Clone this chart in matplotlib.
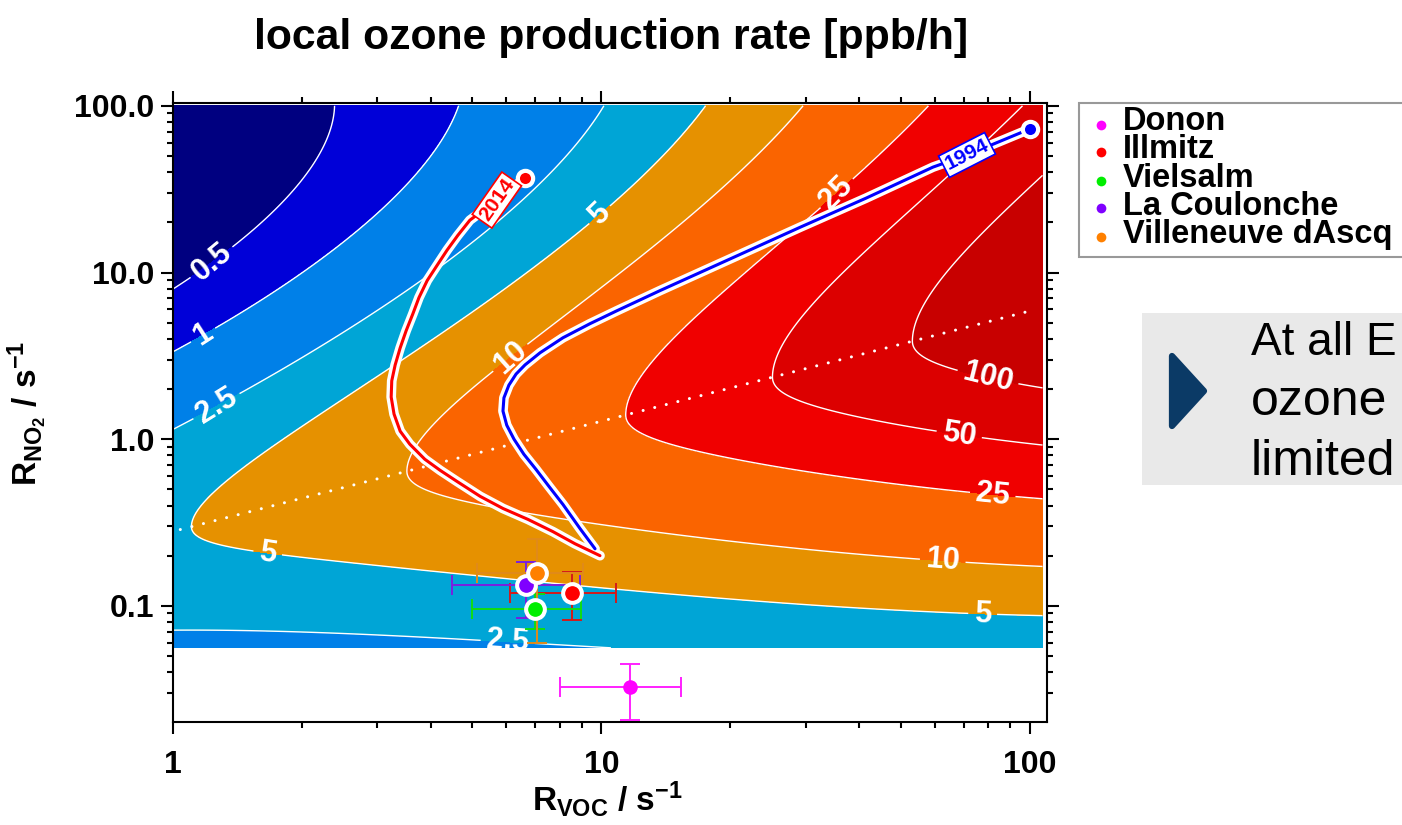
import numpy as np
import matplotlib
matplotlib.use('Agg')
import matplotlib.pyplot as plt
from matplotlib.lines import Line2D
from matplotlib.patches import Rectangle, Polygon
from matplotlib.ticker import LogLocator, FixedLocator, FixedFormatter, NullFormatter

plt.rcParams['font.family'] = ['Liberation Sans', 'DejaVu Sans']
plt.rcParams['font.weight'] = 'bold'
plt.rcParams['mathtext.fontset'] = 'custom'
plt.rcParams['mathtext.rm'] = 'Liberation Sans:bold'
plt.rcParams['mathtext.it'] = 'Liberation Sans:bold'
plt.rcParams['mathtext.bf'] = 'Liberation Sans:bold'
plt.rcParams['mathtext.default'] = 'bf'

# ---------------- data ----------------
# contour levels of the local ozone production rate [ppb/h]
levels = [0.5, 1, 2.5, 5, 10, 25, 50, 100]
band_colors = ['#000080', '#0000d8', '#0080e8', '#00a5d6', '#e69100',
               '#fa6400', '#f00000', '#dc0000', '#c80000']

# points (level, R_VOC, R_NO2)
cont_level = [0.5, 0.5, 0.5, 0.5,
              1, 1, 1, 1, 1,
              2.5, 2.5, 2.5, 2.5, 2.5, 2.5, 2.5, 2.5, 2.5, 2.5,
              5, 5, 5, 5, 5, 5, 5, 5, 5, 5, 5, 5, 5, 5, 5, 5,
              10, 10, 10, 10, 10, 10, 10, 10, 10, 10, 10, 10, 10, 10,
              25, 25, 25, 25, 25, 25, 25, 25, 25, 25, 25, 25,
              50, 50, 50, 50, 50, 50, 50, 50, 50, 50,
              100, 100, 100, 100, 100, 100, 100, 100, 100]
cont_voc = [2.52, 2.01, 1.41, 1.0,
            4.38, 2.88, 1.875, 1.24, 1.0,
            9.66, 6.81, 5.43, 3.65, 1.49, 1.0, 1.0, 2.01, 4.93, 9.5,
            17.3, 11.0, 9.8, 6.4, 3.09, 1.24, 1.08, 1.08, 1.175, 1.41, 2.42, 4.93, 11.1, 29.0, 77.6, 107,
            30.7, 17.0, 10.9, 7.19, 5.49, 4.27, 3.44, 3.33, 4.13, 7.06, 11.1, 24.3, 62.7, 107,
            60.0, 34.7, 20.3, 15.5, 12.5, 11.8, 12.5, 17.0, 24.3, 34.7, 71.3, 107,
            98.5, 82.0, 59.3, 34.2, 27.1, 26.1, 28.0, 34.7, 59.3, 107,
            107, 85.0, 71.4, 57.5, 54.5, 54.0, 59.3, 68.5, 107]
cont_no2 = [100, 34.4, 14.1, 8.2,
            100, 19.7, 8.95, 4.93, 3.3,
            100, 32.5, 19.7, 8.5, 2.03, 1.16, 0.088, 0.0776, 0.065, 0.056,
            100, 27.2, 21.5, 8.95, 2.33, 0.58, 0.406, 0.353, 0.26, 0.227, 0.179, 0.146, 0.121, 0.096, 0.092, 0.085,
            100, 19.7, 8.6, 3.79, 2.34, 1.41, 0.88, 0.64, 0.467, 0.334, 0.27, 0.227, 0.197, 0.177,
            100, 31.2, 7.8, 4.06, 2.33, 1.43, 1.07, 0.77, 0.64, 0.56, 0.473, 0.453,
            100, 62.4, 31.2, 7.8, 3.89, 2.47, 1.87, 1.47, 1.12, 0.97,
            43, 27.2, 21.5, 7.8, 5.66, 4.0, 3.25, 2.75, 2.23]

# contour label positions
label_voc = [1.22, 1.156, 1.24, 9.83, 6.0, 34.7, 1.67, 6.06, 62.7, 77.6, 82.2, 68.8, 80.8]
label_no2 = [11.8, 4.47, 1.69, 22.6, 3.25, 31.2, 0.22, 0.067, 0.197, 0.092, 0.507, 1.16, 2.64]

# dotted ridge line
ridge_voc = [1.04, 98.5]
ridge_no2 = [0.287, 5.82]

# 2014 and 1994 trajectories
traj2014_voc = [9.92, 8.67, 7.70, 6.74, 5.89, 5.21, 4.60, 4.20, 3.87, 3.57, 3.39, 3.28,
                3.23, 3.24, 3.30, 3.39, 3.50, 3.63, 3.75, 3.92, 4.13, 4.36, 4.62, 4.93,
                5.70, 6.63]
traj2014_no2 = [0.200, 0.236, 0.279, 0.330, 0.384, 0.454, 0.558, 0.651, 0.758, 0.933, 1.117,
                1.415, 1.79, 2.24, 2.79, 3.53, 4.47, 5.66, 7.07, 8.95, 11.0, 13.6, 16.7,
                20.6, 27.2, 36.8]
traj1994_voc = [9.66, 8.91, 8.13, 7.54, 7.03, 6.59, 6.25, 6.01, 5.89, 5.92, 6.08, 6.32,
                6.63, 7.19, 8.13, 9.40, 10.87, 13.7, 20.3, 29.1, 41.4, 59.4, 71.3, 100]
traj1994_no2 = [0.220, 0.291, 0.406, 0.521, 0.660, 0.812, 1.0, 1.214, 1.475, 1.77, 2.11,
                2.46, 2.79, 3.30, 4.06, 4.93, 5.90, 7.79, 12.3, 18.7, 27.9, 42.9, 50.7, 72.7]

# measurement sites
sites = ['Donon', 'Illmitz', 'Vielsalm', 'La Coulonche', 'Villeneuve dAscq']
site_color = ['#ff00ff', '#ff0000', '#00ee00', '#7f00ff', '#ff8000']
site_ecolor = ['#ff20ff', '#d41a1a', '#11dd11', '#7a1fe0', '#e08a1a']
site_voc = [11.65, 8.52, 7.0, 6.67, 7.06]
site_voc_lo = [8.0, 6.12, 4.98, 4.49, 5.11]
site_voc_hi = [15.3, 10.8, 8.94, 8.91, 9.04]
site_no2 = [0.0328, 0.120, 0.0964, 0.133, 0.157]
site_no2_lo = [0.0207, 0.0824, 0.0730, 0.0847, 0.060]
site_no2_hi = [0.0449, 0.160, 0.1186, 0.184, 0.251]

# ---------------- smooth surface through the contour readings ----------------
RB = (np.log10(ridge_no2[1]) - np.log10(ridge_no2[0])) / (np.log10(ridge_voc[1]) - np.log10(ridge_voc[0]))
RA = np.log10(ridge_no2[0]) - RB * np.log10(ridge_voc[0])


def features(u, v, w_up, w_lo):
    d = v - (RA + RB * u)
    up = (d > 0).astype(float)
    lo = 1.0 - up
    hu = np.sqrt(d ** 2 + w_up ** 2) - w_up
    hl = np.sqrt(d ** 2 + w_lo ** 2) - w_lo
    return np.stack([np.ones_like(u), u, u ** 2, u ** 3,
                     -up * hu, -up * u * hu, -up * v * hu, -up * u * u * hu, -up * u * v * hu,
                     -lo * hl, -lo * u * hl, -lo * v * hl], axis=-1)


up_ = np.log10(np.array(cont_voc, float))
vp_ = np.log10(np.array(cont_no2, float))
tp_ = np.log10(np.array(cont_level, float))

best = None
for w_up in np.linspace(0.2, 1.2, 11):
    for w_lo in np.linspace(0.2, 1.2, 11):
        Fm = features(up_, vp_, w_up, w_lo)
        c, *_ = np.linalg.lstsq(Fm, tp_, rcond=None)
        err = np.sum((Fm @ c - tp_) ** 2)
        if best is None or err < best[0]:
            best = (err, w_up, w_lo, c)
_, W_UP, W_LO, coef = best

ug = np.linspace(0.0, np.log10(107), 500)
vg = np.linspace(np.log10(0.056), 2.0, 500)
U, V = np.meshgrid(ug, vg)
P = 10 ** (features(U, V, W_UP, W_LO) @ coef)
XG, YG = 10 ** U, 10 ** V

# ---------------- figure ----------------
fig = plt.figure(figsize=(14.02, 8.25), dpi=100)
ax = fig.add_axes([173 / 1402, 1 - 722 / 825, (1047 - 173) / 1402, (722 - 103) / 825])
ax.set_xscale('log')
ax.set_yscale('log')

ax.contourf(XG, YG, P, levels=[1e-9] + levels + [1e9], colors=band_colors, zorder=1)
cs = ax.contour(XG, YG, P, levels=levels, colors='white', linewidths=1.0, zorder=2)
lbls = ax.clabel(cs, levels=levels, inline=True, fontsize=22,
                 fmt=lambda v: f'{v:g}', colors='white',
                 manual=list(zip(label_voc, label_no2)), inline_spacing=6)

ax.plot(ridge_voc, ridge_no2, color='white', lw=2.2, ls=(0, (0.01, 3.9)),
        dash_capstyle='round', zorder=3)

for tx, ty, col in [(traj2014_voc, traj2014_no2, 'red'), (traj1994_voc, traj1994_no2, 'blue')]:
    ax.plot(tx, ty, color='white', lw=7, solid_capstyle='round', solid_joinstyle='round', zorder=4)
    ax.plot(tx, ty, color=col, lw=2.2, solid_capstyle='round', solid_joinstyle='round', zorder=5)
    ax.plot(tx[-1], ty[-1], 'o', ms=11, mfc=col, mec='white', mew=3, zorder=6)

ax.text(5.70, 27.2, '2014', rotation=55, color='red', fontsize=15, ha='center', va='center',
        rotation_mode='anchor', zorder=7,
        bbox=dict(boxstyle='square,pad=0.12', fc='white', ec='red', lw=1.2))
ax.text(71.3, 50.7, '1994', rotation=27, color='blue', fontsize=15, ha='center', va='center',
        rotation_mode='anchor', zorder=7,
        bbox=dict(boxstyle='square,pad=0.12', fc='white', ec='blue', lw=1.2))

for i, name in enumerate(sites):
    xe = [[site_voc[i] - site_voc_lo[i]], [site_voc_hi[i] - site_voc[i]]]
    ye = [[site_no2[i] - site_no2_lo[i]], [site_no2_hi[i] - site_no2[i]]]
    ax.errorbar([site_voc[i]], [site_no2[i]], xerr=xe, yerr=ye, fmt='none',
                ecolor=site_ecolor[i], elinewidth=1.4, capsize=7, capthick=1.4, zorder=8)
for i, name in enumerate(sites):
    if name == 'Donon':
        ax.plot(site_voc[i], site_no2[i], 'o', ms=10.5, mfc=site_color[i], mec='none', zorder=9)
    else:
        ax.plot(site_voc[i], site_no2[i], 'o', ms=13.5, mfc=site_color[i], mec='white',
                mew=2.9, zorder=9)

ax.set_xlim(1.0, 109.6)
ax.set_ylim(0.0201, 104)

ax.xaxis.set_major_locator(FixedLocator([1, 10, 100]))
ax.xaxis.set_major_formatter(FixedFormatter(['1', '10', '100']))
ax.yaxis.set_major_locator(FixedLocator([0.1, 1, 10, 100]))
ax.yaxis.set_major_formatter(FixedFormatter(['0.1', '1.0', '10.0', '100.0']))
for axis in (ax.xaxis, ax.yaxis):
    axis.set_minor_locator(LogLocator(base=10, subs=np.arange(2, 10), numticks=20))
    axis.set_minor_formatter(NullFormatter())
ax.tick_params(which='both', direction='out', top=True, right=True, width=1.5, color='black')
ax.tick_params(which='major', length=8.5, labelsize=23)
ax.tick_params(which='minor', length=4.5)
ax.tick_params(axis='x', which='major', pad=12)
ax.tick_params(axis='y', which='major', pad=5)
for sp in ax.spines.values():
    sp.set_linewidth(1.5)

# title and axis labels
fig.text(611 / 1402, 1 - 38 / 825, 'local ozone production rate [ppb/h]', ha='center',
         va='center', fontsize=30.8, weight='bold')
fig.text(607 / 1402, 1 - 811 / 825, r'$R_{VOC}$ / s$^{-1}$', ha='center', va='baseline',
         fontsize=24)
fig.text(37 / 1402, 1 - 413 / 825, r'$R_{NO_2}$ / s$^{-1}$', ha='center', va='baseline',
         rotation=90, rotation_mode='anchor', fontsize=24)

# legend (drawn by hand in figure pixels)
fig.add_artist(Rectangle((1079 / 1402, 1 - 257 / 825), (1420 - 1079) / 1402, (257 - 103) / 825,
                         transform=fig.transFigure, fc='white', ec='#999999', lw=1.5))
mark_y = [125, 152.3, 180.7, 208.3, 236.7]
text_y = [130, 158.3, 186.7, 215, 243.3]
for i, name in enumerate(sites):
    fig.add_artist(Line2D([1101 / 1402], [1 - mark_y[i] / 825], marker='o', ms=7,
                          mfc=site_color[i], mec='none', ls='none', transform=fig.transFigure))
    fig.text(1123 / 1402, 1 - text_y[i] / 825, name, ha='left', va='baseline', fontsize=23.5,
             weight='bold')

# grey side box
fig.add_artist(Rectangle((1142 / 1402, 1 - 485 / 825), (1420 - 1142) / 1402, (485 - 313) / 825,
                         transform=fig.transFigure, fc='#e9e9e9', ec='none'))
chev = [(1172, 356), (1204, 391), (1172, 426)]
fig.add_artist(Polygon([(x / 1402, 1 - y / 825) for x, y in chev], closed=True,
                       transform=fig.transFigure, fc='#0b3a66', ec='#0b3a66', lw=4.5,
                       joinstyle='round'))
for txt, by, fs in [('At all E', 355, 33), ('ozone', 415, 36), ('limited', 475, 36)]:
    fig.text(1251 / 1402, 1 - by / 825, txt, ha='left', va='baseline', fontsize=fs,
             weight='normal', color='black')

fig.savefig('out.png', dpi=100)
